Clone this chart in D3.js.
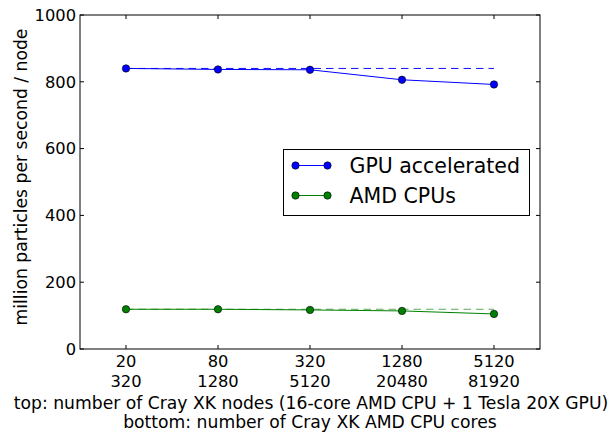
<!DOCTYPE html>
<html>
<head>
<meta charset="utf-8">
<script src="https://cdn.jsdelivr.net/npm/d3@7"></script>
<style>
  html, body { margin: 0; padding: 0; background: #fff; }
  svg { display: block; }
  text { font-family: "DejaVu Sans", sans-serif; fill: #000; }
</style>
</head>
<body>
<svg id="chart" width="611" height="432"></svg>
<script>
// Weak-scaling throughput per node
const nodeCounts = ["20", "80", "320", "1280", "5120"];
const coreCounts = ["320", "1280", "5120", "20480", "81920"];
const gpuValues = [840, 837, 836, 806, 792];
const cpuValues = [119, 119, 117, 114, 105];
const yTicks = [0, 200, 400, 600, 800, 1000];

const series = [
  { name: "GPU accelerated", values: gpuValues, color: "#0000ff", dashOpacity: 0.95 },
  { name: "AMD CPUs", values: cpuValues, color: "#008000", dashOpacity: 0.65 }
];

const W = 611, H = 432;
const m = { left: 80, right: 71, top: 15, bottom: 83 };
const iw = W - m.left - m.right, ih = H - m.top - m.bottom;
const tickFont = "16.3px", labelFont = "17.2px", legendFont = "20.5px";

const svg = d3.select("#chart");
const g = svg.append("g").attr("transform", `translate(${m.left},${m.top})`);

const x = d3.scaleLinear().domain([-0.5, 4.5]).range([0, iw]);
const y = d3.scaleLinear().domain([0, 1000]).range([ih, 0]);
const idx = d3.range(nodeCounts.length);

// frame
g.append("rect").attr("width", iw).attr("height", ih)
  .attr("fill", "none").attr("stroke", "#000").attr("stroke-width", 1);

// inward ticks on all four sides
const tl = 4;
const tickG = g.append("g").attr("stroke", "#000").attr("stroke-width", 1);
idx.forEach(i => {
  tickG.append("line").attr("x1", x(i)).attr("x2", x(i)).attr("y1", ih).attr("y2", ih - tl);
  tickG.append("line").attr("x1", x(i)).attr("x2", x(i)).attr("y1", 0).attr("y2", tl);
});
yTicks.forEach(v => {
  tickG.append("line").attr("x1", 0).attr("x2", tl).attr("y1", y(v)).attr("y2", y(v));
  tickG.append("line").attr("x1", iw).attr("x2", iw - tl).attr("y1", y(v)).attr("y2", y(v));
});

// y tick labels
yTicks.forEach(v => {
  g.append("text").attr("x", -4).attr("y", y(v)).attr("dy", "0.36em")
    .attr("text-anchor", "end").style("font-size", tickFont).text(v);
});

// x tick labels, two rows
idx.forEach(i => {
  g.append("text").attr("x", x(i)).attr("y", ih + 18).attr("text-anchor", "middle")
    .style("font-size", tickFont).text(nodeCounts[i]);
  g.append("text").attr("x", x(i)).attr("y", ih + 38).attr("text-anchor", "middle")
    .style("font-size", tickFont).text(coreCounts[i]);
});

// axis titles
g.append("text").attr("x", iw / 2 + 1).attr("y", ih + 60).attr("text-anchor", "middle")
  .style("font-size", labelFont)
  .text("top: number of Cray XK nodes (16-core AMD CPU + 1 Tesla 20X GPU)");
g.append("text").attr("x", iw / 2).attr("y", ih + 79).attr("text-anchor", "middle")
  .style("font-size", labelFont)
  .text("bottom: number of Cray XK AMD CPU cores");
g.append("text")
  .attr("transform", `translate(${-53},${ih / 2 - 5}) rotate(-90)`)
  .attr("text-anchor", "middle").style("font-size", labelFont)
  .text("million particles per second / node");

// ideal-scaling reference (dashed) and measured lines
const line = d3.line().x((d, i) => x(i)).y(d => y(d));
series.forEach(s => {
  const ideal = idx.map(() => s.values[0]);
  g.append("path").datum(ideal).attr("d", line).attr("fill", "none")
    .attr("stroke", s.color).attr("stroke-width", 1).attr("stroke-dasharray", "7.5,5")
    .attr("opacity", s.dashOpacity);
  g.append("path").datum(s.values).attr("d", line).attr("fill", "none")
    .attr("stroke", s.color).attr("stroke-width", 1);
  g.selectAll(null).data(s.values).enter().append("circle")
    .attr("cx", (d, i) => x(i)).attr("cy", d => y(d)).attr("r", 3.7)
    .attr("fill", s.color).attr("stroke", "#000").attr("stroke-width", 0.6);
});

// legend
const lg = svg.append("g").attr("transform", "translate(283.5,149.5)");
lg.append("rect").attr("width", 246).attr("height", 66)
  .attr("fill", "#fff").attr("stroke", "#000").attr("stroke-width", 1);
series.forEach((s, i) => {
  const yy = 16 + i * 30;
  lg.append("line").attr("x1", 12).attr("x2", 44).attr("y1", yy).attr("y2", yy)
    .attr("stroke", s.color).attr("stroke-width", 1);
  [12, 44].forEach(cx => lg.append("circle").attr("cx", cx).attr("cy", yy).attr("r", 3.7)
    .attr("fill", s.color).attr("stroke", "#000").attr("stroke-width", 0.6));
  lg.append("text").attr("x", 66).attr("y", yy).attr("dy", "0.36em")
    .style("font-size", legendFont).text(s.name);
});
</script>
</body>
</html>
